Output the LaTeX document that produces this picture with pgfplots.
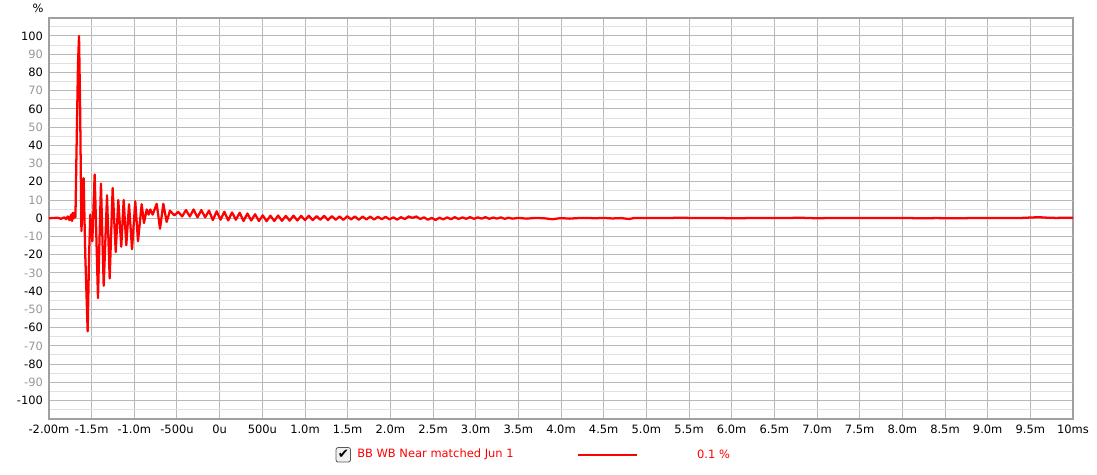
\documentclass[border=0pt]{standalone}
\usepackage{pgfplots}
\pgfplotsset{compat=1.18}
\usepackage{fontspec}
\setmainfont{DejaVu Sans}
\definecolor{gridmaj}{RGB}{184,184,184}
\definecolor{gridmin}{RGB}{224,224,224}
\definecolor{framegray}{RGB}{160,160,160}
\definecolor{oddlab}{RGB}{150,150,150}

\begin{document}
\begin{tikzpicture}
\begin{axis}[
    at={(0pt,0pt)}, anchor=south west,
    scale only axis,
    width=768pt, height=300.75pt,
    xmin=-2, xmax=10, ymin=-110, ymax=110,
    font=\fontsize{8.6pt}{10pt}\selectfont,
    /pgf/number format/assume math mode=true,
    xtick={-2,-1.5,...,10},
    xticklabels={-2.00m,-1.5m,-1.0m,-500u,0u,500u,1.0m,1.5m,2.0m,2.5m,3.0m,3.5m,4.0m,4.5m,5.0m,5.5m,6.0m,6.5m,7.0m,7.5m,8.0m,8.5m,9.0m,9.5m,10ms},
    ytick={-100,-80,...,100},
    extra y ticks={-90,-70,...,90},
    extra y tick style={grid style={gridmin, line width=0.75pt},
        yticklabel style={text=oddlab}},
    minor ytick={-105,-95,...,105},
    major tick length=0pt, minor tick length=0pt,
    xmajorgrids, ymajorgrids, yminorgrids,
    major grid style={gridmaj, line width=0.75pt},
    minor grid style={gridmin, line width=0.75pt},
    axis line style={framegray, line width=1.5pt},
    xticklabel style={yshift=-1pt},
    yticklabel style={xshift=-1pt},
]
\addplot[red, line width=1.7pt, line join=round] coordinates {
(-2.0,0) (-1.9,0.3) (-1.86,-0.3) (-1.82,0.5) (-1.80,-0.5) (-1.78,1) (-1.76,-1)
(-1.74,2) (-1.73,-1.5) (-1.72,3) (-1.71,0) (-1.70,3) (-1.69,0.5)
(-1.68,30) (-1.66,85) (-1.648,100) (-1.635,60) (-1.62,-7) (-1.594,22)
(-1.575,-20) (-1.547,-62) (-1.53,-20) (-1.516,2) (-1.492,-12.6) (-1.465,24)
(-1.445,-10) (-1.426,-43.8) (-1.391,19) (-1.359,-37) (-1.320,12.6) (-1.289,-33)
(-1.254,16.6) (-1.218,-18.5) (-1.188,10) (-1.153,-15.6) (-1.125,10) (-1.094,-14.8)
(-1.062,7.7) (-1.027,-17) (-0.989,9.3) (-0.957,-12.6) (-0.914,7.7) (-0.887,-2.6)
(-0.855,4.8) (-0.832,2) (-0.813,4.8) (-0.785,2) (-0.738,7.9) (-0.699,-5.7)
(-0.660,7.9) (-0.621,-2) (-0.582,4.2) (-0.532,1.6)
(-0.485,3.5) (-0.44,1.0) (-0.395,4.5) (-0.35,1.0) (-0.305,4.8) (-0.26,0.5)
(-0.215,4.5) (-0.17,0.5) (-0.125,4.2) (-0.08,-1.0) (-0.035,3.8) (0.01,-0.8)
(0.055,3.6) (0.10,-1.2) (0.145,3.2) (0.19,-0.8) (0.235,3.0) (0.28,-1.5)
(0.325,2.6) (0.37,-1.2) (0.415,2.2) (0.46,-1.5) (0.505,1.6) (0.55,-1.6)
(0.595,1.4) (0.64,-1.5) (0.685,1.5) (0.73,-1.4) (0.775,1.3) (0.82,-1.3)
(0.865,1.4) (0.91,-1.2) (0.955,1.3) (1.00,-1.0) (1.045,1.4) (1.09,-1.0)
(1.135,1.2) (1.18,-0.8) (1.225,1.3) (1.27,-1.0) (1.315,1.2) (1.36,-0.8)
(1.405,1.0) (1.45,-0.9) (1.495,1.1) (1.54,-0.6) (1.585,1.0) (1.63,-0.8)
(1.675,0.9) (1.72,-0.6) (1.765,0.9) (1.81,-0.7) (1.855,0.8) (1.90,-0.5)
(1.945,0.8) (1.99,-0.6) (2.035,0.5) (2.08,-0.7) (2.125,0.6) (2.17,-0.4)
(2.215,1.0) (2.26,0.2) (2.305,1.0) (2.35,-0.4) (2.395,0.5) (2.44,-0.8)
(2.485,0.2) (2.53,-0.9) (2.575,0.3) (2.62,-0.6) (2.665,0.5) (2.71,-0.5)
(2.755,0.6) (2.80,-0.4) (2.845,0.5) (2.89,-0.3) (2.935,0.6) (2.98,-0.3)
(3.025,0.5) (3.07,-0.2) (3.115,0.6) (3.16,-0.3) (3.205,0.4) (3.25,-0.2)
(3.295,0.5) (3.34,-0.3) (3.385,0.3) (3.43,-0.2)
(3.5,0.2) (3.6,-0.2) (3.7,0.2) (3.8,0) (3.9,-0.5) (4.0,0.1) (4.1,-0.2)
(4.2,0.1) (4.3,0.2) (4.4,0) (4.5,0.2) (4.6,-0.1) (4.7,0.1) (4.8,-0.4)
(4.85,0.1) (5.0,0.2) (5.2,0.1) (5.4,0.3) (5.6,0.1) (5.8,0.2) (6.0,0)
(6.2,0.1) (6.4,0.2) (6.6,0.1) (6.8,0.3) (7.0,0) (7.2,0.2) (7.4,0.1)
(7.6,0.2) (7.8,0.1) (8.0,0.2) (8.2,0) (8.4,0.1) (8.6,0) (8.8,0.1)
(9.0,0.1) (9.2,0.1) (9.4,0.2) (9.6,0.6) (9.7,0.3) (9.8,0.2) (10.0,0.3)
};
\end{axis}
% unit label and legend row
\node[font=\fontsize{8.6pt}{10pt}\selectfont] at (-8.25pt,307.5pt) {\%};
\draw[gray!70!black, rounded corners=1.5pt, fill=gray!12, line width=0.6pt]
    (215.3pt,-32.4pt) rectangle (226.1pt,-21.6pt);
\node[font=\fontsize{10pt}{10pt}\selectfont, inner sep=0pt] at (220.9pt,-26.6pt) {✔};
\node[anchor=west, text=red, inner sep=0pt,
    font=\fontsize{8.6pt}{10pt}\selectfont] at (231pt,-27pt) {BB WB Near matched Jun 1};
\draw[red, line width=1.5pt] (396.75pt,-27pt) -- (441pt,-27pt);
\node[text=red, font=\fontsize{8.6pt}{10pt}\selectfont] at (498.4pt,-27pt) {0.1 \%};
\path[use as bounding box] (-36.75pt,-42pt) rectangle (786pt,312.75pt);
\end{tikzpicture}
\end{document}
